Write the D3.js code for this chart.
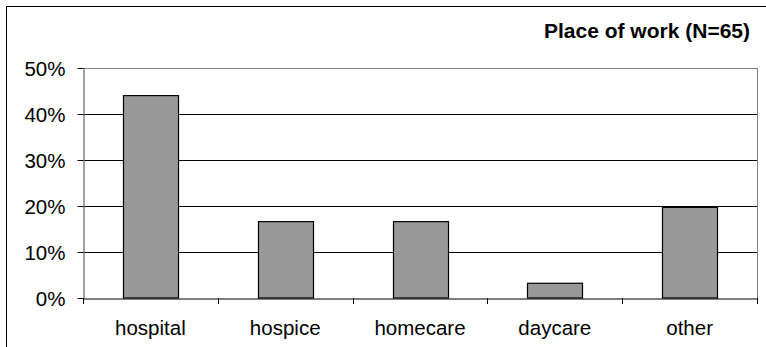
<!DOCTYPE html>
<html><head><meta charset="utf-8">
<script src="https://cdn.jsdelivr.net/npm/d3@7"></script>
<style>body{margin:0;background:#fff}svg{display:block}</style>
</head><body><svg id="c" width="766" height="347"></svg>
<script>
const categories = ["hospital","hospice","homecare","daycare","other"];
const values = [44.0, 16.6, 16.6, 3.2, 19.7];
const yTicks = [0,10,20,30,40,50];
const title = "Place of work (N=65)";

const svg = d3.select("#c");
const font = "'Liberation Sans', Arial, sans-serif";
// outer border (cropped at right/bottom)
svg.append("rect").attr("x",6.5).attr("y",6.5).attr("width",800).attr("height",400)
  .attr("fill","none").attr("stroke","#000").attr("stroke-width",1);

const L=83, R=757, T=68, B=298;
const x = d3.scaleBand().domain(categories).range([L,R]).paddingInner(0).paddingOuter(0);
const y = d3.scaleLinear().domain([0,50]).range([B,T]);

// gridlines
svg.append("g").selectAll("line").data(yTicks.filter(d=>d>0&&d<50)).join("line")
  .attr("x1",L).attr("x2",R).attr("y1",d=>Math.round(y(d))+0.5).attr("y2",d=>Math.round(y(d))+0.5)
  .attr("stroke","#000").attr("stroke-width",1);
// plot area border top/right
svg.append("line").attr("x1",L).attr("x2",R+0.5).attr("y1",T+0.5).attr("y2",T+0.5).attr("stroke","#808080");
svg.append("line").attr("x1",R+0.5).attr("x2",R+0.5).attr("y1",T).attr("y2",B+5).attr("stroke","#808080");

// bars
const bw = 55;
svg.append("g").selectAll("rect").data(categories).join("rect")
  .attr("x",(d)=>Math.round(x(d)+x.bandwidth()/2-bw/2)+0.5)
  .attr("y",(d,i)=>y(values[i]))
  .attr("width",bw)
  .attr("height",(d,i)=>B-y(values[i]))
  .attr("fill","#999999").attr("stroke","#000").attr("stroke-width",1.2);

// y axis
const ya = svg.append("g").attr("transform",`translate(${L+0.5},0)`)
  .call(d3.axisLeft(y).tickValues(yTicks).tickFormat(d=>d+"%").tickSize(6).tickSizeOuter(0));
ya.select(".domain").attr("stroke","#808080").attr("stroke-width",1.5);
ya.selectAll(".tick line").attr("stroke","#000");
ya.selectAll(".tick text").attr("font-family",font).attr("font-size",20.5).attr("fill","#000").attr("x",-18).attr("dy","0.36em");

// x axis
const xa = svg.append("g").attr("transform",`translate(0,${B+0.5})`)
  .call(d3.axisBottom(x).tickSize(0).tickSizeOuter(0));
xa.select(".domain").attr("stroke","#000").attr("stroke-width",1.2);
xa.selectAll(".tick text").attr("font-family",font).attr("font-size",20.5).attr("fill","#000").attr("y",36.5).attr("dy",0);
// category boundary ticks
const bounds = categories.map(c=>x(c)).concat([R]);
svg.append("g").selectAll("line").data(bounds).join("line")
  .attr("x1",d=>Math.round(d)+0.5).attr("x2",d=>Math.round(d)+0.5).attr("y1",B).attr("y2",B+6)
  .attr("stroke","#000");

svg.append("text").attr("x",750).attr("y",37.5).attr("text-anchor","end")
  .attr("font-family",font).attr("font-size",21).attr("font-weight","bold").text(title);
</script></body></html>
